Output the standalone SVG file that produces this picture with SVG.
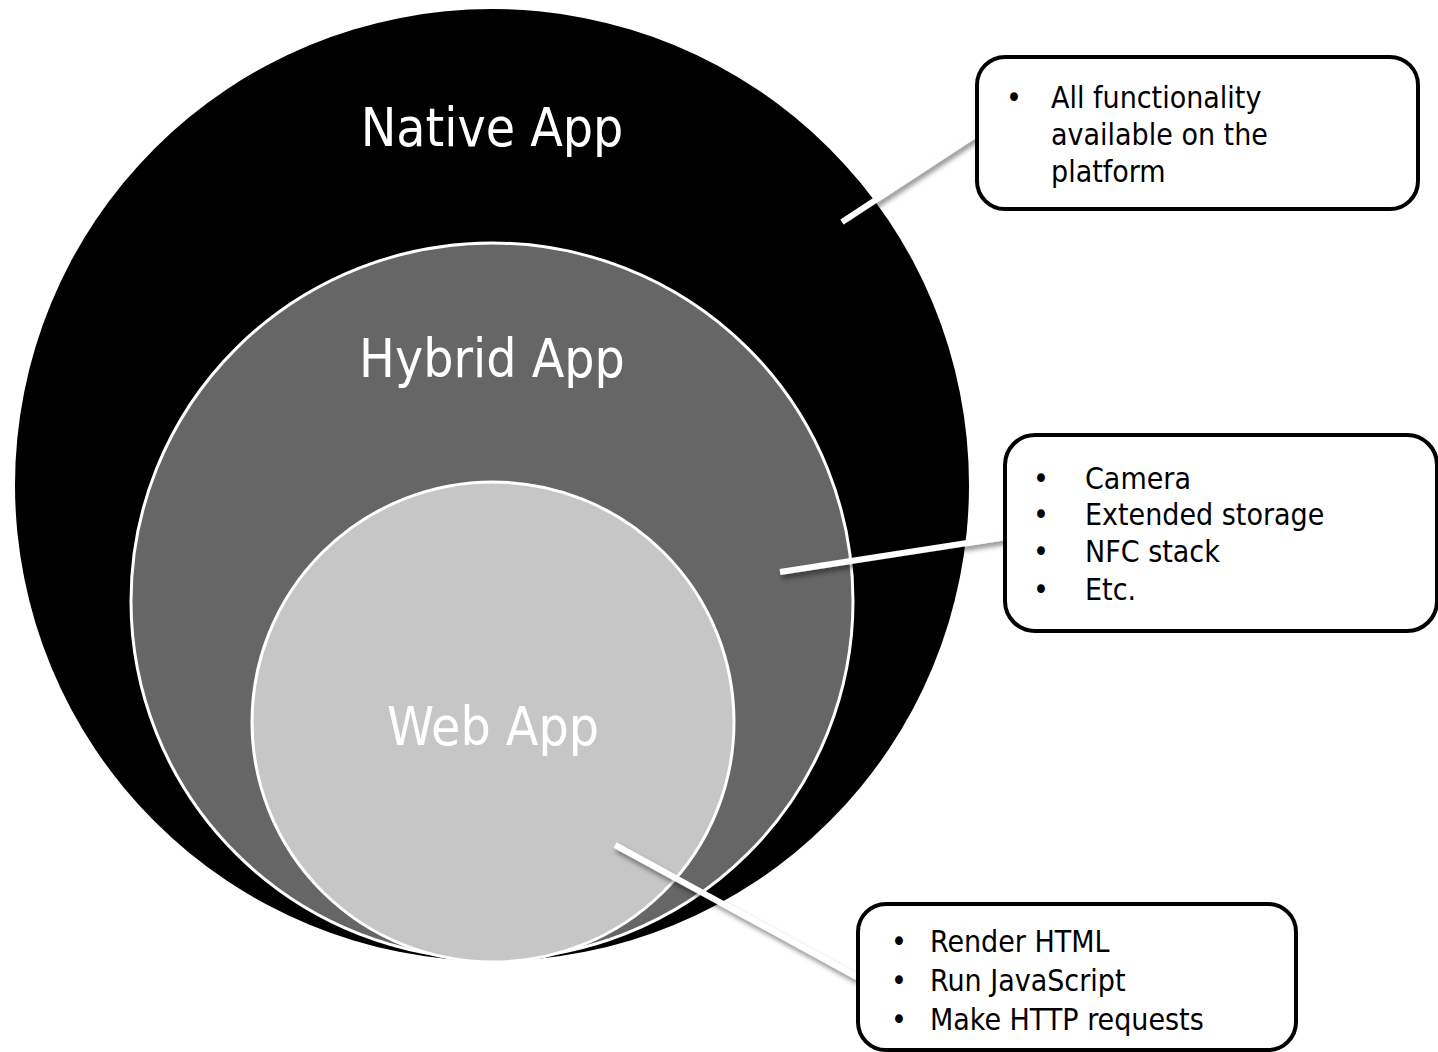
<svg xmlns="http://www.w3.org/2000/svg" width="1438" height="1052" viewBox="0 0 1438 1052">
<style>
.lbl{font-family:"DejaVu Sans Condensed","DejaVu Sans",sans-serif;font-stretch:condensed;fill:#fff;font-size:53px;text-anchor:middle}
.txt{font-family:"DejaVu Sans Condensed","DejaVu Sans",sans-serif;font-stretch:condensed;fill:#000;font-size:30px}
.box{fill:#fff;stroke:#000;stroke-width:4}
.conn{stroke:#fff;stroke-width:6;fill:none;filter:url(#sh)}
.ring{stroke:#fff;stroke-width:3}
</style>
<defs>
<filter id="sh" x="-20%" y="-20%" width="140%" height="160%">
<feDropShadow dx="2" dy="4" stdDeviation="2.5" flood-color="#000" flood-opacity="0.45"/>
</filter>
</defs>
<g id="native">
<ellipse cx="492" cy="485" rx="477" ry="476" fill="#000"/>
<text class="lbl" x="492" y="146">Native App</text>
</g>
<g id="hybrid">
<ellipse class="ring" cx="492" cy="601" rx="361" ry="358" fill="#666666"/>
<text class="lbl" x="492" y="377">Hybrid App</text>
</g>
<g id="web">
<ellipse class="ring" cx="493" cy="722" rx="241" ry="240" fill="#c6c6c6"/>
<text class="lbl" x="493" y="745">Web App</text>
</g>
<g id="connectors">
<line class="conn" x1="842" y1="222" x2="978" y2="133"/>
<line class="conn" x1="780" y1="572" x2="1006" y2="537"/>
<line class="conn" x1="615" y1="845" x2="857" y2="977"/>
</g>
<g id="callout-native">
<rect class="box" x="977" y="57" width="441" height="152" rx="28"/>
<text class="txt" x="1006" y="108">•</text>
<text class="txt" x="1051" y="108">All functionality</text>
<text class="txt" x="1051" y="145">available on the</text>
<text class="txt" x="1051" y="182">platform</text>
</g>
<g id="callout-hybrid">
<rect class="box" x="1005" y="435" width="432" height="196" rx="30"/>
<text class="txt" x="1033" y="489">•</text>
<text class="txt" x="1085" y="489">Camera</text>
<text class="txt" x="1033" y="525">•</text>
<text class="txt" x="1085" y="525">Extended storage</text>
<text class="txt" x="1033" y="562">•</text>
<text class="txt" x="1085" y="562">NFC stack</text>
<text class="txt" x="1033" y="600">•</text>
<text class="txt" x="1085" y="600">Etc.</text>
</g>
<g id="callout-web">
<rect class="box" x="858" y="904" width="438" height="146" rx="28"/>
<text class="txt" x="891" y="952">•</text>
<text class="txt" x="930" y="952">Render HTML</text>
<text class="txt" x="891" y="991">•</text>
<text class="txt" x="930" y="991">Run JavaScript</text>
<text class="txt" x="891" y="1030">•</text>
<text class="txt" x="930" y="1030">Make HTTP requests</text>
</g>
</svg>
